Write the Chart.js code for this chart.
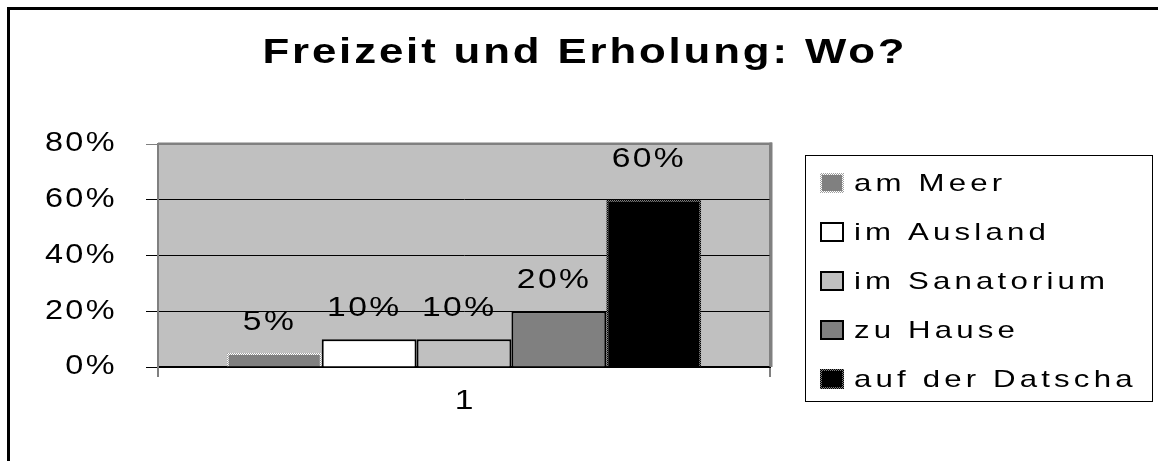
<!DOCTYPE html>
<html>
<head>
<meta charset="utf-8">
<script src="https://cdn.jsdelivr.net/npm/chart.js@4/dist/chart.umd.min.js"></script>
<style>
  html, body { margin: 0; padding: 0; background: #ffffff; }
  canvas { display: block; }
</style>
</head>
<body>
<canvas id="c" width="1158" height="461"></canvas>
<script>
// ---------- data ----------
const chartTitle = 'Freizeit und Erholung: Wo?';
const categories = ['1'];
const seriesNames = ['am Meer', 'im Ausland', 'im Sanatorium', 'zu Hause', 'auf der Datscha'];
const seriesValues = [5, 10, 10, 20, 60];
const yTickValues = [0, 20, 40, 60, 80];
const yTickLabels = ['0%', '20%', '40%', '60%', '80%'];

// ---------- styles ----------
const FONT = "'Liberation Sans', Arial, Helvetica, sans-serif";
const canvas = document.getElementById('c');
const mainCtx = canvas.getContext('2d');
function checker(a, b) {
  const t = document.createElement('canvas');
  t.width = 2; t.height = 2;
  const g = t.getContext('2d');
  g.fillStyle = a; g.fillRect(0, 0, 2, 2);
  g.fillStyle = b; g.fillRect(0, 0, 1, 1); g.fillRect(1, 1, 1, 1);
  return mainCtx.createPattern(t, 'repeat');
}
const fillColors = ['#808080', '#ffffff', '#c0c0c0', '#808080', '#000000'];
const edgeColors = [checker('#ffffff', '#a0a0a0'), '#000000', '#000000', '#000000', checker('#000000', '#808080')];
const labelLift = [23.5, 23.5, 23.5, 23, 33];

function stretchedText(ctx, text, x, y, o) {
  ctx.save();
  ctx.font = o.font;
  ctx.fillStyle = o.color || '#000';
  ctx.textAlign = 'left';
  ctx.textBaseline = 'alphabetic';
  ctx.letterSpacing = '0px';
  const n = Array.from(text).length;
  const w = (ctx.measureText(text).width + o.ls * (n - 1)) * o.sx;
  const left = o.align === 'center' ? x - w / 2 : (o.align === 'right' ? x - w : x);
  ctx.translate(left, y);
  ctx.scale(o.sx, 1);
  ctx.letterSpacing = o.ls + 'px';
  ctx.fillText(text, 0, 0);
  ctx.restore();
}

function stretchScale(scale, anchorFn, sx, ls) {
  if (!scale || scale._stretched) return;
  const orig = scale.drawLabels;
  scale.drawLabels = function (area) {
    const ctx = this.ctx;
    const ax = anchorFn(this);
    ctx.save();
    ctx.translate(ax, 0); ctx.scale(sx, 1); ctx.translate(-ax, 0);
    ctx.letterSpacing = ls + 'px';
    orig.call(this, area);
    ctx.restore();
  };
  scale._stretched = true;
}

const deco = {
  id: 'deco',
  beforeDraw(chart) {
    const { ctx, chartArea: a, width, height } = chart;
    ctx.save();
    ctx.fillStyle = '#ffffff';
    ctx.fillRect(0, 0, width, height);
    ctx.fillStyle = '#000000';
    ctx.fillRect(7, 7, 3, height - 7);
    ctx.fillRect(7, 7, width - 7, 3);
    ctx.fillStyle = '#c0c0c0';
    ctx.fillRect(a.left, a.top, a.right - a.left, a.bottom - a.top);
    ctx.restore();
    stretchScale(chart.scales.y, s => s.right - s.options.grid.tickLength - s.options.ticks.padding, 1.2, 2);
    stretchScale(chart.scales.x, s => s.getPixelForValue(0), 1.2, 0);
  },
  beforeDatasetsDraw(chart) {
    const { ctx, chartArea: a } = chart;
    ctx.save();
    ctx.fillStyle = '#808080';
    ctx.fillRect(a.left, a.top - 1.5, a.right - a.left + 2, 2.5);
    ctx.fillRect(a.right - 0.5, a.top - 1.5, 3, a.bottom - a.top + 1.5);
    ctx.restore();
  },
  afterDatasetsDraw(chart) {
    const ctx = chart.ctx;
    chart.data.datasets.forEach((ds, i) => {
      const bar = chart.getDatasetMeta(i).data[0];
      stretchedText(ctx, ds.data[0] + '%', bar.x - 6, bar.y - labelLift[i],
        { font: '28px ' + FONT, sx: 1.2, ls: 2, align: 'center', color: '#000' });
    });
  },
  afterDraw(chart) {
    const ctx = chart.ctx;
    // title
    stretchedText(ctx, chartTitle, 583.5, 63.3,
      { font: 'bold 35px ' + FONT, sx: 1.25, ls: 2.3, align: 'center', color: '#000' });
    // legend
    const L = { x: 805.5, y: 155.5, w: 347, h: 246, boxX: 820, boxW: 24, boxH: 20, top0: 173, step: 49, textX: 854, textDy: 17.5 };
    ctx.save();
    ctx.strokeStyle = '#000000';
    ctx.lineWidth = 1;
    ctx.strokeRect(L.x, L.y, L.w, L.h);
    chart.data.datasets.forEach((ds, i) => {
      const y = L.top0 + i * L.step;
      ctx.fillStyle = ds.borderColor;
      ctx.fillRect(L.boxX, y, L.boxW, L.boxH);
      ctx.fillStyle = ds.backgroundColor;
      ctx.fillRect(L.boxX + 2, y + 2, L.boxW - 4, L.boxH - 4);
      stretchedText(ctx, ds.label, L.textX, y + L.textDy,
        { font: '24px ' + FONT, sx: 1.3, ls: 3.2, align: 'left', color: '#000' });
    });
    ctx.restore();
  }
};

const datasets = seriesNames.map((name, i) => ({
  label: name,
  data: [seriesValues[i]],
  backgroundColor: fillColors[i],
  borderColor: edgeColors[i],
  borderWidth: 2,
  barPercentage: 1.0,
  categoryPercentage: 0.775
}));

new Chart(canvas, {
  type: 'bar',
  data: { labels: categories, datasets: datasets },
  options: {
    responsive: false,
    animation: false,
    devicePixelRatio: 1,
    events: [],
    layout: { padding: { left: 0, top: 144, right: 388, bottom: 34 } },
    plugins: {
      legend: { display: false },
      title: { display: false },
      tooltip: { enabled: false }
    },
    scales: {
      x: {
        type: 'category',
        afterFit: s => { s.height = 60; },
        grid: { color: '#808080', lineWidth: 2, tickLength: 10, offset: true, drawOnChartArea: true },
        border: { color: '#000000', width: 2 },
        ticks: { color: '#000000', font: { family: FONT, size: 28 }, padding: 7, maxRotation: 0 }
      },
      y: {
        min: 0,
        max: 80,
        afterFit: s => { s.width = 158; },
        grid: {
          color: c => (c.tick && c.tick.value === 80) ? '#808080' : '#000000',
          lineWidth: 1,
          tickLength: 12
        },
        border: { color: '#808080', width: 2 },
        ticks: {
          stepSize: 20,
          padding: 29,
          color: '#000000',
          font: { family: FONT, size: 27 },
          callback: v => { const k = yTickValues.indexOf(v); return k >= 0 ? yTickLabels[k] : ''; }
        }
      }
    }
  },
  plugins: [deco]
});
</script>
</body>
</html>
